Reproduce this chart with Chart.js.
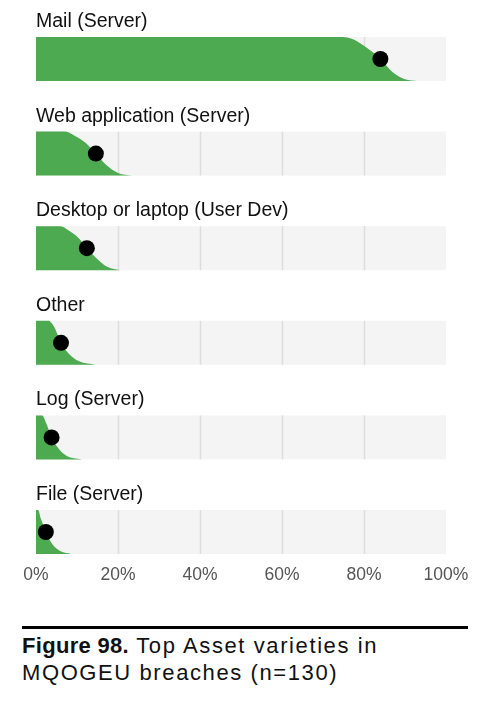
<!DOCTYPE html>
<html>
<head>
<meta charset="utf-8">
<script src="https://cdn.jsdelivr.net/npm/chart.js@4.4.1/dist/chart.umd.min.js"></script>
<style>
  html, body { margin: 0; padding: 0; background: #fff; }
  #wrap { position: relative; width: 490px; height: 708px; overflow: hidden; }
  #chart { position: absolute; left: 0; top: 0; }
  .rule { position: absolute; left: 22px; top: 626px; width: 446px; height: 3px; background: #000; }
  .caption { position: absolute; left: 22px; top: 632px; width: 460px; font: 22px "Liberation Sans", Arial, sans-serif;
    line-height: 27px; letter-spacing: 1.6px; color: #111; }
  .caption b { letter-spacing: 0.3px; }
</style>
</head>
<body>
<div id="wrap">
  <canvas id="chart" width="490" height="600"></canvas>
  <div class="rule"></div>
  <div class="caption"><b>Figure 98.</b> Top Asset varieties in<br>MQOGEU breaches (n=130)</div>
</div>
<script>
const categories = [
  "Mail (Server)",
  "Web application (Server)",
  "Desktop or laptop (User Dev)",
  "Other",
  "Log (Server)",
  "File (Server)"
]
// black dots, % of breaches
const pointEstimates = [84, 14.6, 12.4, 6.1, 3.8, 2.4]
// slab outline: x in %, share of the track height
const slabX = [
  [0, 74, 77, 80, 84, 87, 90, 93],
  [0, 7, 9, 12, 14.6, 17, 20, 23.5],
  [0, 6, 8, 10.5, 12.4, 15, 17.5, 20.5],
  [0, 3, 4.5, 6.1, 8, 10.5, 14.5],
  [0, 1.5, 2.5, 3.8, 5.5, 7.5, 11],
  [0, 0.5, 1.2, 2.4, 4, 6, 8.5]
]
const slabH = [
  [1, 1, 0.96, 0.8, 0.5, 0.2, 0.04, 0],
  [1, 1, 0.93, 0.75, 0.5, 0.25, 0.06, 0],
  [1, 1, 0.9, 0.72, 0.5, 0.25, 0.07, 0],
  [1, 1, 0.85, 0.5, 0.25, 0.08, 0],
  [1, 1, 0.82, 0.5, 0.25, 0.08, 0],
  [1, 1, 0.8, 0.5, 0.22, 0.06, 0]
]
const tickLabels = ["0%", "20%", "40%", "60%", "80%", "100%"]

const GREEN = "#4DAA50"
const TRACK = 0.465 // track height as a share of the row pitch

const datasets = categories.map((c, i) => ({
  label: c,
  data: slabX[i].map((x, k) => ({ x: x, y: i + TRACK * (1 - slabH[i][k]) })),
  backgroundColor: GREEN,
  borderColor: GREEN,
  borderWidth: 0,
  pointRadius: 0,
  cubicInterpolationMode: "monotone",
  fill: { value: i + TRACK },
  order: 2
}))

datasets.push({
  label: "estimate",
  data: pointEstimates.map((v, i) => ({ x: v, y: i + TRACK / 2 })),
  showLine: false,
  pointRadius: 8,
  pointHoverRadius: 8,
  pointBackgroundColor: "#000",
  pointBorderWidth: 0,
  order: 1
})

const tracks = {
  id: "tracks",
  beforeDatasetsDraw(chart) {
    const { ctx, scales: { x, y } } = chart
    ctx.save()
    categories.forEach((c, i) => {
      const top = y.getPixelForValue(i)
      const bottom = y.getPixelForValue(i + TRACK)
      const left = x.getPixelForValue(0)
      const right = x.getPixelForValue(100)
      ctx.fillStyle = "#f4f4f4"
      ctx.fillRect(left, top, right - left, bottom - top)
      ctx.strokeStyle = "#dddddd"
      ctx.lineWidth = 1.5
      ;[20, 40, 60, 80].forEach((v) => {
        const px = Math.round(x.getPixelForValue(v)) + 0.5
        ctx.beginPath()
        ctx.moveTo(px, top)
        ctx.lineTo(px, bottom)
        ctx.stroke()
      })
      // row label
      ctx.fillStyle = "#111"
      ctx.font = '19.5px "Liberation Sans", Arial, sans-serif'
      ctx.textBaseline = "alphabetic"
      ctx.fillText(c, left, top - 10)
    })
    ctx.restore()
  }
}

new Chart(document.getElementById("chart"), {
  type: "line",
  data: { datasets: datasets },
  options: {
    responsive: false,
    animation: false,
    layout: { padding: { top: 37, left: 36, right: 44, bottom: 3 } },
    plugins: { legend: { display: false }, tooltip: { enabled: false } },
    scales: {
      x: {
        type: "linear",
        min: 0,
        max: 100,
        grid: { display: false, drawTicks: false },
        border: { display: false },
        ticks: {
          stepSize: 20,
          padding: 11,
          color: "#555",
          font: { family: '"Liberation Sans", Arial, sans-serif', size: 17.5 },
          callback: (v) => tickLabels[v / 20]
        }
      },
      y: {
        type: "linear",
        min: 0,
        max: 5 + TRACK,
        reverse: true,
        display: false
      }
    }
  },
  plugins: [tracks]
})
</script>
</body>
</html>
